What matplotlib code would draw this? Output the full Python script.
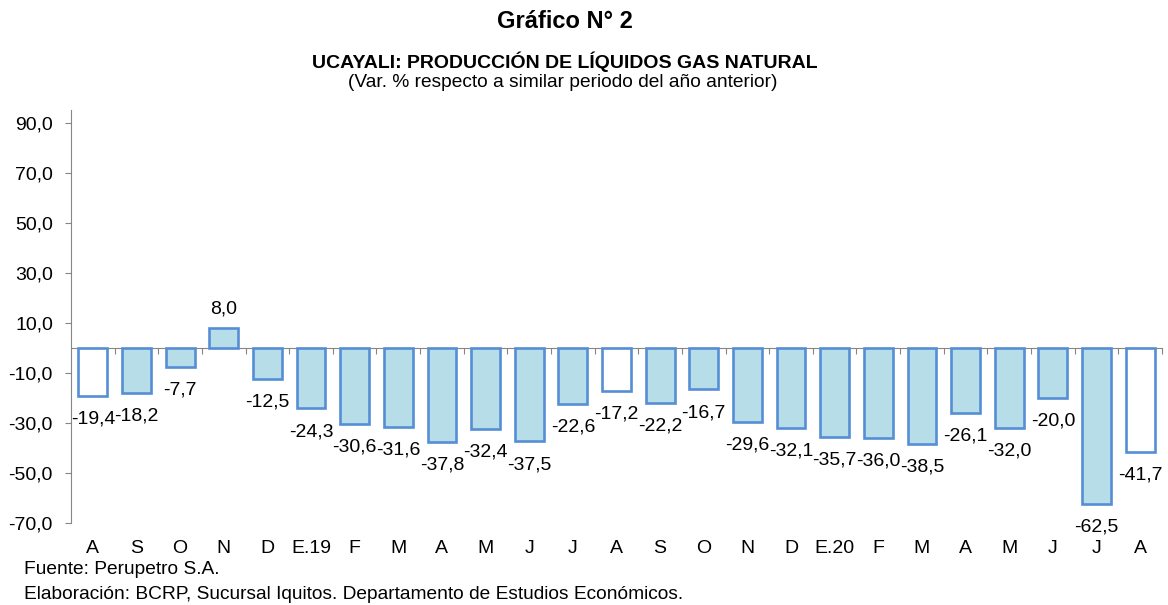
import numpy as np
import matplotlib
matplotlib.use("Agg")
import matplotlib.pyplot as plt

plt.rcParams['font.family'] = ['Liberation Sans', 'DejaVu Sans']

# data
months = ["A", "S", "O", "N", "D", "E.19", "F", "M", "A", "M", "J", "J", "A",
          "S", "O", "N", "D", "E.20", "F", "M", "A", "M", "J", "J", "A"]
values = [-19.4, -18.2, -7.7, 8.0, -12.5, -24.3, -30.6, -31.6, -37.8, -32.4,
          -37.5, -22.6, -17.2, -22.2, -16.7, -29.6, -32.1, -35.7, -36.0, -38.5,
          -26.1, -32.0, -20.0, -62.5, -41.7]
# august bars are drawn without fill
white_idx = [0, 12, 24]

edgeCol = "#558ED5"
fillCol = "#B7DEE8"
greyCol = "#868686"
textSize = 14

fig = plt.figure(figsize=(11.68, 6.05), dpi=100)
ax = fig.add_axes([0.0608, 0.136, 0.934, 0.682])

x = np.arange(len(values))
colors = [("white" if i in white_idx else fillCol) for i in range(len(values))]
ax.bar(x, values, width=0.66, color=colors, edgecolor=edgeCol, linewidth=1.9, zorder=3)

# data labels
for i, v in enumerate(values):
    lbl = "{:.1f}".format(v).replace(".", ",")
    if v >= 0:
        ax.annotate(lbl, (i, v), xytext=(0, 7), textcoords="offset points",
                    ha="center", va="bottom", fontsize=textSize)
    else:
        ax.annotate(lbl, (i, v), xytext=(0, -10.5), textcoords="offset points",
                    ha="center", va="top", fontsize=textSize)

ax.set_xlim(-0.5, len(values) - 0.5)
ax.set_ylim(-70, 95)
yt = np.arange(-70, 91, 20)
ax.set_yticks(yt)
ax.set_yticklabels(["{:.1f}".format(t).replace(".", ",") for t in yt], fontsize=textSize)

# x axis line at zero, tick marks between categories
ax.spines['bottom'].set_position(('data', 0))
ax.spines['bottom'].set_color(greyCol)
ax.spines['left'].set_color(greyCol)
ax.spines['top'].set_visible(False)
ax.spines['right'].set_visible(False)
ax.set_xticks(x + 0.5)
ax.set_xticklabels([])
ax.tick_params(axis='x', direction='out', length=4, color=greyCol)
ax.tick_params(axis='y', direction='out', length=4, color=greyCol, pad=9)

# category labels at the bottom
trans = matplotlib.transforms.blended_transform_factory(ax.transData, ax.transAxes)
for i, m in enumerate(months):
    ax.text(i, -0.062, m, transform=trans, ha="center", va="center", fontsize=textSize)

fig.text(0.484, 0.965, "Gráfico N° 2", ha="center", va="center", fontsize=17, fontweight="bold")
fig.text(0.484, 0.8975, "UCAYALI: PRODUCCIÓN DE LÍQUIDOS GAS NATURAL", ha="center", va="center",
         fontsize=14, fontweight="bold")
fig.text(0.482, 0.864, "(Var. % respecto a similar periodo del año anterior)", ha="center",
         va="center", fontsize=13.8)
fig.text(0.0205, 0.058, "Fuente: Perupetro S.A.", ha="left", va="center", fontsize=13.8)
fig.text(0.0205, 0.017, "Elaboración: BCRP, Sucursal Iquitos. Departamento de Estudios Económicos.",
         ha="left", va="center", fontsize=13.8)

fig.savefig("out.png", dpi=100)
